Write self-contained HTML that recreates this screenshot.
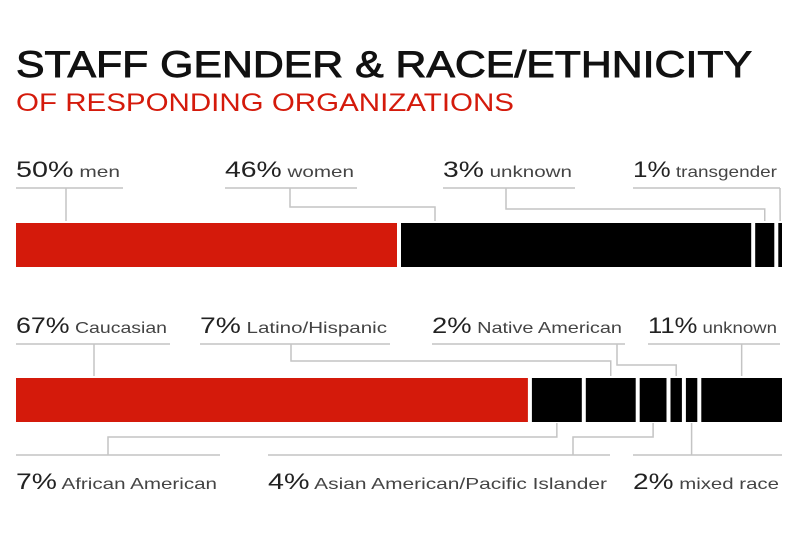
<!DOCTYPE html>
<html><head><meta charset="utf-8"><style>
html,body{margin:0;padding:0;background:#fff;}
svg{display:block;font-family:"Liberation Sans",sans-serif;}
</style></head><body>
<svg id="c" width="800" height="550">
<text x="16" y="77" font-size="37" fill="#111" stroke="#111" stroke-width="0.9" textLength="736" lengthAdjust="spacingAndGlyphs">STAFF GENDER &amp; RACE/ETHNICITY</text>
<text x="16" y="111" font-size="25" fill="#d41a0b" textLength="498" lengthAdjust="spacingAndGlyphs">OF RESPONDING ORGANIZATIONS</text>
</svg>
<script>
const genderCats=["men","women","unknown","transgender"];
const genderVals=[50,46,3,1];
const raceCats=["Caucasian","African American","Latino/Hispanic","Asian American/Pacific Islander","Native American","mixed race","unknown"];
const raceVals=[67,7,7,4,2,2,11];
const NS="http://www.w3.org/2000/svg";
const svg=document.getElementById('c');
function el(t,a){const e=document.createElementNS(NS,t);for(const k in a)e.setAttribute(k,a[k]);svg.appendChild(e);return e;}
const X0=16,X1=782,GAP=4;
function segs(vals){const tot=vals.reduce((a,b)=>a+b,0);const w=X1-X0+GAP;let acc=0;return vals.map(v=>{const s=X0+acc/tot*w;acc+=v;const e=X0+acc/tot*w-GAP;return [s,e];});}
function bar(vals,y,h,name){const s=segs(vals);s.forEach((p,i)=>{const r=el('rect',{x:p[0],y:y,width:p[1]-p[0],height:h,fill:i===0?'#d41a0b':'#000'});

});return s;}
function label(x,y,pct,name,ulx2,dname){const t=el('text',{x:x,y:y,fill:'#222',textLength:ulx2-x-3,lengthAdjust:'spacingAndGlyphs'});


const a=document.createElementNS(NS,'tspan');a.setAttribute('font-size','22');a.textContent=pct+'%';t.appendChild(a);
const b=document.createElementNS(NS,'tspan');b.setAttribute('font-size','16');b.setAttribute('fill','#444');b.textContent=' '+name;t.appendChild(b);}
function line(pts,dname){const p=el('polyline',{points:pts.map(q=>q.join(',')).join(' '),fill:'none',stroke:'#c4c4c4','stroke-width':1.5});

}
function mid(s){return (s[0]+s[1])/2;}
// gender
const gs=bar(genderVals,223,44,'gender-bar');
const gTop=[[16,123,66,null],[225,357,290,207],[443,575,506,209],[633,780,null,null]];
genderVals.forEach((v,i)=>{const g=gTop[i];label(g[0],177,v,genderCats[i],g[1],'gender-label-'+genderCats[i]);
line([[g[0],188],[g[1],188]],'gender-underline-'+i);
const cx=i===1?gs[i][0]+34:mid(gs[i]);
if(i===0)line([[g[2],188],[g[2],221]],'gender-connector-0');
else if(i===3)line([[g[1],188],[cx,221]],'gender-connector-3');
else line([[g[2],188],[g[2],g[3]],[cx,g[3]],[cx,221]],'gender-connector-'+i);});
// race
const rs=bar(raceVals,378,44,'race-bar');
const rTop={0:[16,170,94,null],2:[200,390,291,361],4:[432,625,617,365],6:[648,780,740,null]};
for(const k in rTop){const i=+k,g=rTop[k];label(g[0],333,raceVals[i],raceCats[i],g[1],'race-label-'+i);
line([[g[0],344],[g[1],344]],'race-top-underline-'+i);
const cx=mid(rs[i]);
if(i===0)line([[g[2],344],[g[2],376]],'race-connector-0');
else if(i===6)line([[cx,344],[cx,376]],'race-connector-6');
else line([[g[2],344],[g[2],g[3]],[cx,g[3]],[cx,376]],'race-connector-'+i);}
const rBot={1:[16,220,108],3:[268,610,573],5:[633,782,null]};
for(const k in rBot){const i=+k,g=rBot[k];label(g[0],489,raceVals[i],raceCats[i],g[1],'race-label-'+i);
line([[g[0],455],[g[1],455]],'race-bottom-underline-'+i);
const cx=mid(rs[i]);
if(i===5)line([[cx,423],[cx,455]],'race-connector-5');
else line([[cx,423],[cx,437],[g[2],437],[g[2],455]],'race-connector-'+i);}
</script>
</body></html>
